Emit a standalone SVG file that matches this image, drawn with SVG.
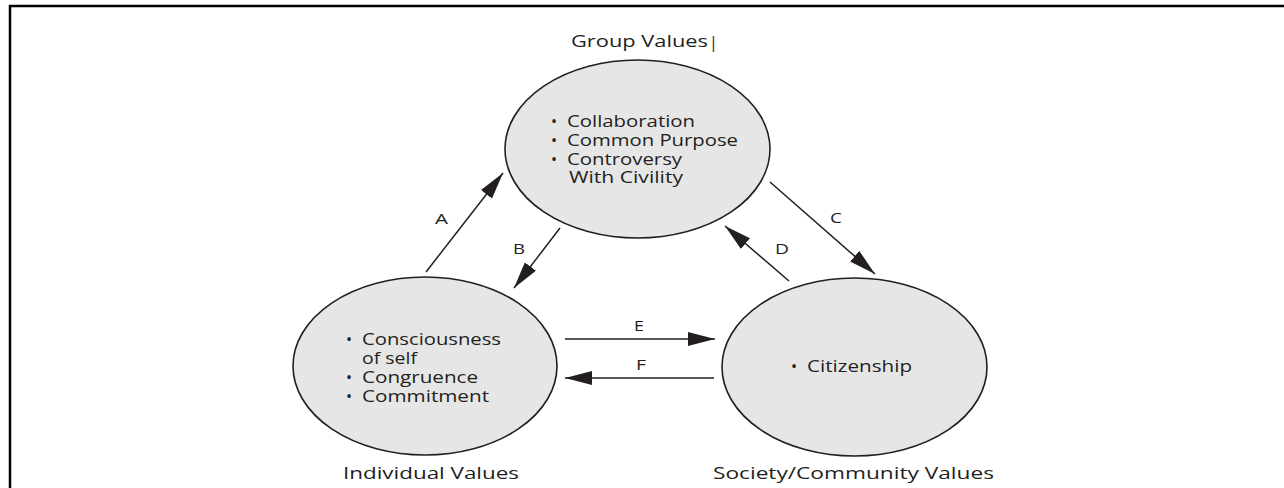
<svg xmlns="http://www.w3.org/2000/svg" width="1284" height="488" viewBox="0 0 1284 488">
  <style>
    .bg { fill: #ffffff; }
    .frame { stroke: #000000; stroke-width: 2.5; fill: none; }
    .node { fill: #e6e6e6; stroke: #231f20; stroke-width: 1.6; }
    .title { font-family: "Open Sans", "Liberation Sans", sans-serif; font-size: 16px; font-weight: 500; fill: #231f20; }
    .item { font-family: "Open Sans", "Liberation Sans", sans-serif; font-size: 16px; font-weight: 500; fill: #231f20; }
    .lbl { font-family: "Open Sans", "Liberation Sans", sans-serif; font-size: 15px; font-weight: 500; fill: #231f20; }
    .edge { stroke: #231f20; stroke-width: 1.5; fill: none; marker-end: url(#head); }
  </style>
  <defs>
    <marker id="head" viewBox="0 0 27 14" refX="27" refY="7" markerWidth="27" markerHeight="14" markerUnits="userSpaceOnUse" orient="auto">
      <path d="M0,0 L27,7 L0,14 Z" fill="#231f20"/>
    </marker>
  </defs>

  <rect class="bg" x="0" y="0" width="1284" height="488"/>
  <!-- page frame: top and left rules -->
  <path class="frame" d="M10,488 V6 H1284"/>

  <!-- Group node -->
  <g id="group-values">
    <ellipse class="node" cx="637.5" cy="149" rx="132.5" ry="89"/>
    <text class="title"><tspan x="571" y="47" textLength="137" lengthAdjust="spacingAndGlyphs">Group Values</tspan><tspan x="709" y="48">|</tspan></text>
    <text class="item">
      <tspan x="551" y="127">•</tspan><tspan x="567" y="127" textLength="128" lengthAdjust="spacingAndGlyphs">Collaboration</tspan>
      <tspan x="551" y="146">•</tspan><tspan x="567" y="146" textLength="171" lengthAdjust="spacingAndGlyphs">Common Purpose</tspan>
      <tspan x="551" y="165">•</tspan><tspan x="567" y="165" textLength="115" lengthAdjust="spacingAndGlyphs">Controversy</tspan>
      <tspan x="569" y="183" textLength="114" lengthAdjust="spacingAndGlyphs">With Civility</tspan>
    </text>
  </g>

  <!-- Individual node -->
  <g id="individual-values">
    <ellipse class="node" cx="425" cy="366" rx="132" ry="89"/>
    <text class="title" x="343" y="479" textLength="176" lengthAdjust="spacingAndGlyphs">Individual Values</text>
    <text class="item">
      <tspan x="346" y="345">•</tspan><tspan x="362" y="345" textLength="139" lengthAdjust="spacingAndGlyphs">Consciousness</tspan>
      <tspan x="362" y="364" textLength="55" lengthAdjust="spacingAndGlyphs">of self</tspan>
      <tspan x="346" y="383">•</tspan><tspan x="362" y="383" textLength="116" lengthAdjust="spacingAndGlyphs">Congruence</tspan>
      <tspan x="346" y="402">•</tspan><tspan x="362" y="402" textLength="127" lengthAdjust="spacingAndGlyphs">Commitment</tspan>
    </text>
  </g>

  <!-- Society node -->
  <g id="society-values">
    <ellipse class="node" cx="854.5" cy="367" rx="132.5" ry="89"/>
    <text class="title" x="713" y="479" textLength="281" lengthAdjust="spacingAndGlyphs">Society/Community Values</text>
    <text class="item"><tspan x="791" y="372">•</tspan><tspan x="807" y="372" textLength="105" lengthAdjust="spacingAndGlyphs">Citizenship</tspan></text>
  </g>

  <!-- connectors -->
  <g id="connectors">
    <line class="edge" x1="426" y1="272" x2="503" y2="173"/>
    <line class="edge" x1="560" y1="228" x2="514" y2="288"/>
    <line class="edge" x1="770" y1="182" x2="875" y2="274"/>
    <line class="edge" x1="789" y1="281" x2="725" y2="226"/>
    <line class="edge" x1="565" y1="339" x2="715" y2="339"/>
    <line class="edge" x1="714" y1="378" x2="565" y2="378"/>
    <text class="lbl" x="435" y="224" textLength="13" lengthAdjust="spacingAndGlyphs">A</text>
    <text class="lbl" x="513" y="254" textLength="12" lengthAdjust="spacingAndGlyphs">B</text>
    <text class="lbl" x="830" y="223" textLength="12" lengthAdjust="spacingAndGlyphs">C</text>
    <text class="lbl" x="775" y="254" textLength="14" lengthAdjust="spacingAndGlyphs">D</text>
    <text class="lbl" x="634" y="331" textLength="10" lengthAdjust="spacingAndGlyphs">E</text>
    <text class="lbl" x="636" y="370" textLength="10" lengthAdjust="spacingAndGlyphs">F</text>
  </g>
</svg>
